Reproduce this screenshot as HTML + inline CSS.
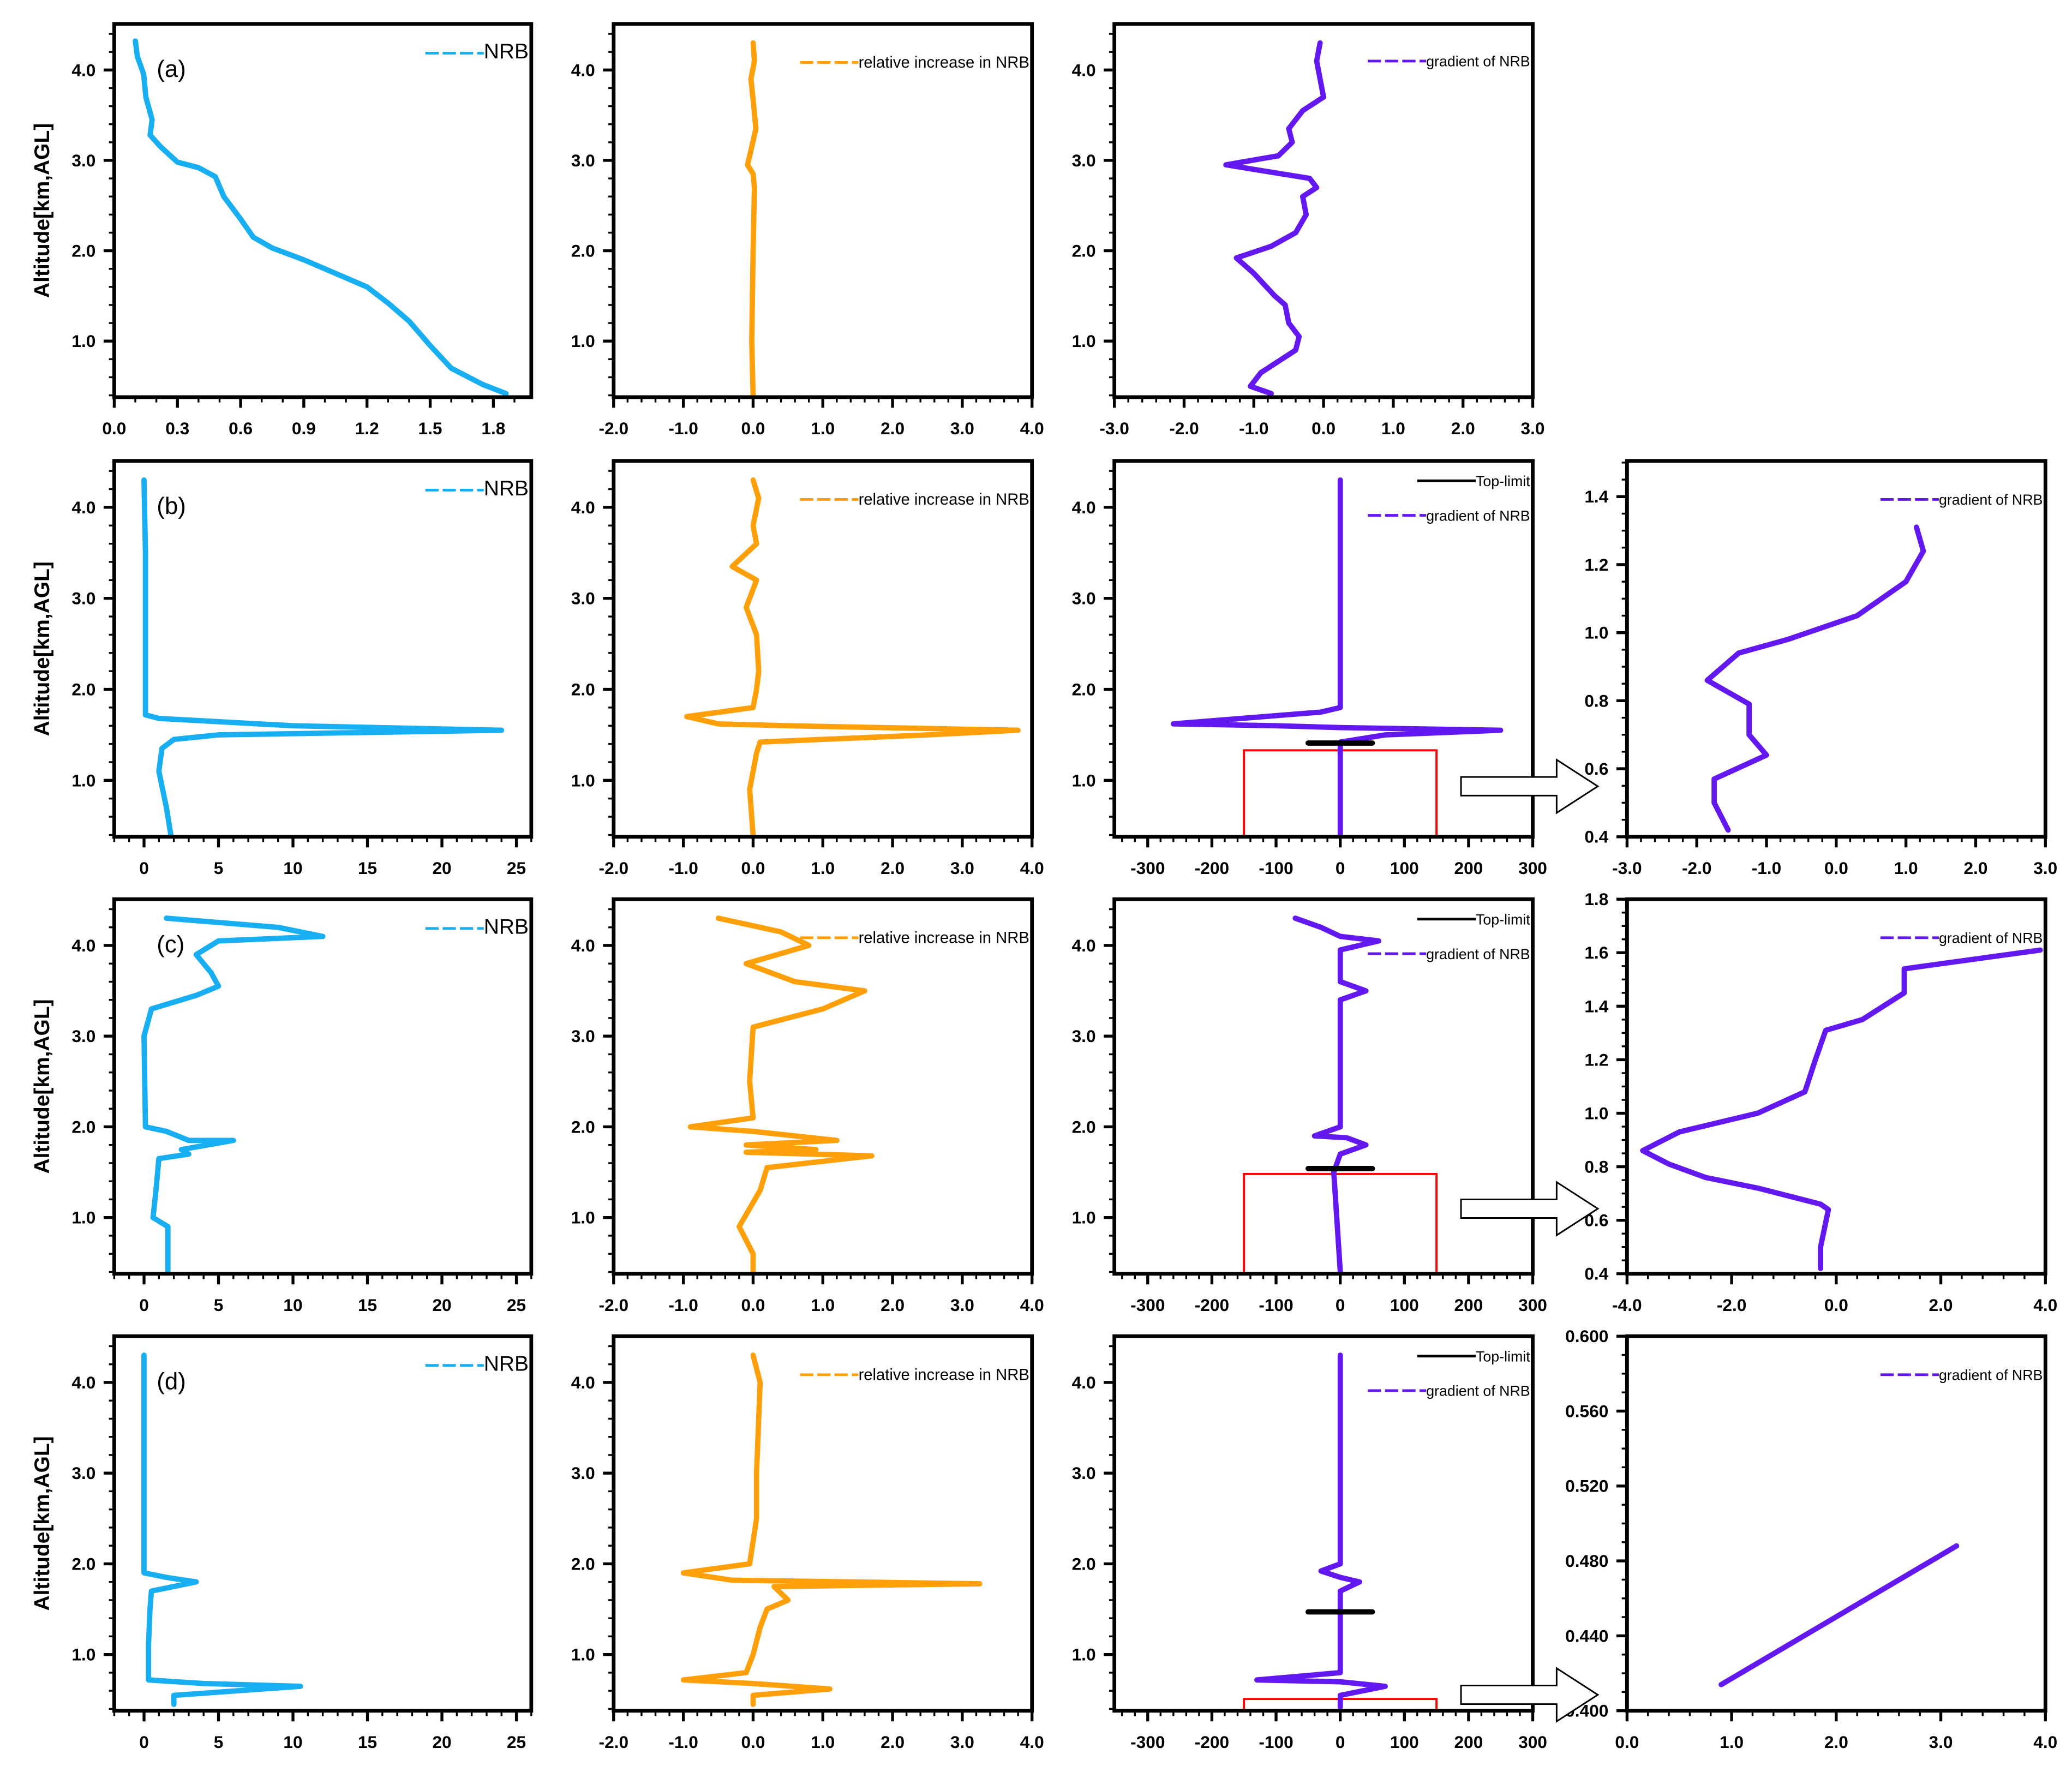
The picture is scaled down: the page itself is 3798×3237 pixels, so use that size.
<!DOCTYPE html>
<html><head><meta charset="utf-8"><style>
html,body{margin:0;padding:0;background:#fff}
svg{display:block}
text{font-family:"Liberation Sans",sans-serif}
</style></head><body>
<svg id="fig" width="3798" height="3237" viewBox="0 0 1560 1329.6" xmlns="http://www.w3.org/2000/svg"></svg>
<script>
// ---------- data (value, altitude km) ----------
const nrbA_x=[0.1,0.11,0.14,0.15,0.18,0.17,0.22,0.3,0.4,0.48,0.52,0.6,0.66,0.75,0.9,1.05,1.2,1.3,1.4,1.5,1.6,1.75,1.86];
const nrbA_y=[4.32,4.15,3.95,3.7,3.45,3.28,3.15,2.98,2.92,2.82,2.6,2.35,2.15,2.03,1.9,1.75,1.6,1.42,1.22,0.95,0.7,0.52,0.42];
const relA_x=[0,0.02,-0.03,0.01,0.04,-0.02,-0.08,0.0,0.02,0,-0.02,0];
const relA_y=[4.3,4.1,3.9,3.6,3.35,3.15,2.95,2.85,2.7,2.0,1.0,0.4];
const grdA_x=[-0.05,-0.1,-0.05,0.0,-0.3,-0.5,-0.45,-0.65,-1.4,-0.6,-0.2,-0.1,-0.3,-0.25,-0.4,-0.75,-1.25,-1.0,-0.7,-0.55,-0.5,-0.35,-0.4,-0.7,-0.9,-1.05,-0.75];
const grdA_y=[4.3,4.1,3.9,3.7,3.55,3.35,3.2,3.05,2.95,2.85,2.8,2.7,2.6,2.4,2.2,2.05,1.92,1.75,1.5,1.4,1.2,1.05,0.9,0.75,0.65,0.5,0.42];

const nrbB_x=[0,0.1,0.1,0.1,1,10,24,5,2,1.2,1,1.5,1.8];
const nrbB_y=[4.3,3.5,2.5,1.72,1.68,1.6,1.55,1.5,1.45,1.35,1.1,0.7,0.4];
const relB_x=[0,0.08,0.0,0.05,-0.3,0.05,-0.1,0.05,0.08,0.05,0,-0.95,-0.5,0.5,3.8,2.5,0.1,0.05,-0.05,0];
const relB_y=[4.3,4.1,3.8,3.6,3.35,3.2,2.9,2.6,2.2,2.0,1.8,1.7,1.62,1.6,1.55,1.5,1.42,1.3,0.9,0.4];
const grdB_x=[0,0,-30,-260,-100,0,250,70,0,0];
const grdB_y=[4.3,1.8,1.75,1.62,1.6,1.58,1.55,1.5,1.42,0.4];
const zoomB_x=[1.15,1.25,1.0,0.3,-0.7,-1.4,-1.85,-1.25,-1.25,-1.0,-1.75,-1.75,-1.55];
const zoomB_y=[1.31,1.24,1.15,1.05,0.98,0.94,0.86,0.79,0.7,0.64,0.57,0.5,0.42];

const nrbC_x=[1.5,9,12,5,3.5,4.5,5,3.5,0.5,0,0.1,1.5,3,6,2.5,3,1.0,0.8,0.6,1.6,1.6];
const nrbC_y=[4.3,4.2,4.1,4.05,3.9,3.7,3.55,3.45,3.3,3.0,2.0,1.95,1.85,1.85,1.75,1.7,1.65,1.3,1.0,0.9,0.4];
const relC_x=[-0.5,0.4,0.8,-0.1,0.6,1.6,1.0,0,-0.05,0,-0.9,0,1.2,-0.1,0.9,-0.1,1.7,0.2,0.1,-0.2,0.0,0.0];
const relC_y=[4.3,4.15,4.0,3.8,3.6,3.5,3.3,3.1,2.5,2.1,2.0,1.95,1.85,1.8,1.75,1.72,1.68,1.55,1.3,0.9,0.6,0.4];
const grdC_x=[-70,-30,0,60,0,0,40,0,0,-40,10,40,0,-10,0];
const grdC_y=[4.3,4.2,4.1,4.05,3.95,3.6,3.5,3.4,2.0,1.9,1.88,1.8,1.7,1.5,0.4];
const zoomC_x=[3.9,1.3,1.3,0.5,-0.2,-0.4,-0.6,-1.5,-3.0,-3.7,-3.2,-2.5,-1.5,-0.3,-0.15,-0.3,-0.3];
const zoomC_y=[1.61,1.54,1.45,1.35,1.31,1.2,1.08,1.0,0.93,0.86,0.81,0.76,0.72,0.66,0.64,0.5,0.42];

const nrbD_x=[0,0,0,1.5,3.5,0.5,0.4,0.3,0.3,4,10.5,2,2];
const nrbD_y=[4.3,3.0,1.9,1.85,1.8,1.7,1.5,1.1,0.72,0.68,0.65,0.55,0.45];
const relD_x=[0,0.1,0.05,0.05,-0.05,-1.0,-0.3,3.25,0.3,0.5,0.2,0.1,0.0,-0.1,-1.0,0.0,1.1,0.0,0.0];
const relD_y=[4.3,4.0,3.0,2.5,2.0,1.9,1.82,1.78,1.75,1.6,1.5,1.3,1.0,0.8,0.72,0.68,0.62,0.55,0.45];
const grdD_x=[0,0,-30,0,30,0,0,-130,0,70,0,0];
const grdD_y=[4.3,2.0,1.92,1.85,1.8,1.7,0.8,0.72,0.7,0.65,0.55,0.42];
const zoomD_x=[0.9,3.15];
const zoomD_y=[0.414,0.488];

const topLimit=[null,1.41,1.54,1.47];
const boxTop=[null,1.33,1.48,0.51];

const C_NRB='#17aef2',C_REL='#ff9f0a',C_GRD='#6318f0';
const svg=document.getElementById('fig');
const NS='http://www.w3.org/2000/svg';
function mk(tag,attrs,parent){const e=document.createElementNS(NS,tag);for(const k in attrs)e.setAttribute(k,attrs[k]);(parent||svg).appendChild(e);return e;}

const colX=[[86,400],[462,777],[839,1154],[1225,1540]];
const rowY=[[18,299],[347,630],[677,959],[1006,1288]];
const rowNames=['a','b','c','d'];

function panel(r,c,xr,yr,xMaj,xMin,yMaj,yMin,xDec,yDec,name){
  const [x0,x1]=colX[c],[y0,y1]=rowY[r];
  const g=mk('g',{});
  
  
  const sx=v=>x0+(v-xr[0])/(xr[1]-xr[0])*(x1-x0);
  const sy=v=>y1-(v-yr[0])/(yr[1]-yr[0])*(y1-y0);
  const eps=1e-9;
  const xa=mk('g',{},g);
  for(let v=Math.ceil(xr[0]/xMin-eps)*xMin;v<=xr[1]+eps;v+=xMin){
    const maj=Math.abs(v/xMaj-Math.round(v/xMaj))<1e-6;
    const X=sx(v);
    mk('line',{x1:X,x2:X,y1:y1,y2:y1+(maj?8:4),stroke:'#000','stroke-width':maj?2.2:1.4},xa);
    if(maj){const t=mk('text',{x:X,y:y1+28,'font-size':13,'font-weight':'bold','text-anchor':'middle'},xa);t.textContent=(Math.abs(v)<eps?0:v).toFixed(xDec);}
  }
  const ya=mk('g',{},g);
  for(let v=Math.ceil(yr[0]/yMin-eps)*yMin;v<=yr[1]+eps;v+=yMin){
    const maj=Math.abs(v/yMaj-Math.round(v/yMaj))<1e-6;
    const Y=sy(v);
    mk('line',{x1:x0,x2:x0-(maj?8:4),y1:Y,y2:Y,stroke:'#000','stroke-width':maj?2.2:1.4},ya);
    if(maj){const t=mk('text',{x:x0-14,y:Y+4.5,'font-size':13,'font-weight':'bold','text-anchor':'end'},ya);t.textContent=v.toFixed(yDec);}
  }
  return {g,sx,sy,x0,x1,y0,y1};
}
function frame(p){const f=mk('rect',{x:p.x0,y:p.y0,width:p.x1-p.x0,height:p.y1-p.y0,fill:'none',stroke:'#000','stroke-width':2.8},p.g);
  }
function series(p,xs,ys,color,name){
  const pts=xs.map((v,i)=>p.sx(v).toFixed(1)+','+p.sy(ys[i]).toFixed(1)).join(' ');
  const l=mk('polyline',{points:pts,fill:'none',stroke:color,'stroke-width':4,'stroke-linejoin':'round','stroke-linecap':'round'},p.g);
  
}
function legend(p,ly,label,color,dash,fs){
  const lg=mk('g',{},p.g);
  const t=mk('text',{x:0,y:ly+4,'font-size':fs,'text-anchor':'start'},lg);t.textContent=label;
  const w=t.getComputedTextLength?t.getComputedTextLength():label.length*fs*0.5;
  const tx=p.x1-2-w;t.setAttribute('x',tx);
  mk('line',{x1:tx-44,x2:tx,y1:ly,y2:ly,stroke:color,'stroke-width':2,'stroke-dasharray':dash?'10,3':'none'},lg);
}
for(let r=0;r<4;r++){
  const p1=r==0?panel(0,0,[0,1.98],[0.38,4.51],0.3,0.1,1,0.2,1,1,'nrb-panel-a'):panel(r,0,[-2,26],[0.38,4.51],5,1,1,0.2,0,1,'nrb-panel-'+rowNames[r]);
  const p2=panel(r,1,[-2,4],[0.38,4.51],1,0.2,1,0.2,1,1,'relative-increase-panel-'+rowNames[r]);
  const p3=r==0?panel(0,2,[-3,3],[0.38,4.51],1,0.2,1,0.2,1,1,'gradient-panel-a'):panel(r,2,[-352,300],[0.38,4.51],100,20,1,0.2,0,1,'gradient-panel-'+rowNames[r]);
  const d=[[nrbA_x,nrbA_y,relA_x,relA_y,grdA_x,grdA_y],[nrbB_x,nrbB_y,relB_x,relB_y,grdB_x,grdB_y],[nrbC_x,nrbC_y,relC_x,relC_y,grdC_x,grdC_y],[nrbD_x,nrbD_y,relD_x,relD_y,grdD_x,grdD_y]][r];
  series(p1,d[0],d[1],C_NRB,'nrb-line');
  series(p2,d[2],d[3],C_REL,'relative-increase-line');
  if(r>0){
    const bx=mk('rect',{x:p3.sx(-150),y:p3.sy(boxTop[r]),width:p3.sx(150)-p3.sx(-150),height:p3.y1-p3.sy(boxTop[r]),fill:'none',stroke:'#f00','stroke-width':1.6},p3.g);
    
  }
  series(p3,d[4],d[5],C_GRD,'gradient-line');
  if(r>0){
    const tl=mk('line',{x1:p3.sx(-50),x2:p3.sx(50),y1:p3.sy(topLimit[r]),y2:p3.sy(topLimit[r]),stroke:'#000','stroke-width':4,'stroke-linecap':'round'},p3.g);
    
  }
  frame(p1);frame(p2);frame(p3);
  legend(p1,rowY[r][0]+22,'NRB',C_NRB,true,16);
  legend(p2,rowY[r][0]+29,'relative increase in NRB',C_REL,true,12);
  if(r==0){legend(p3,rowY[r][0]+28,'gradient of NRB',C_GRD,true,11);}
  else{legend(p3,rowY[r][0]+15,'Top-limit','#000',false,11);legend(p3,rowY[r][0]+41,'gradient of NRB',C_GRD,true,11);}
  const lab=mk('text',{x:118,y:rowY[r][0]+40,'font-size':18},p1.g);lab.textContent='('+rowNames[r]+')';
  
  const cy=(rowY[r][0]+rowY[r][1])/2;
  const yt=mk('text',{x:0,y:0,'font-size':16,'font-weight':'bold','text-anchor':'middle',transform:`translate(37,${cy}) rotate(-90)`},p1.g);yt.textContent='Altitude[km,AGL]';
  
  if(r>0){
    let p4;
    if(r==1){p4=panel(1,3,[-3,3],[0.4,1.505],1,0.2,0.2,0.05,1,1,'zoom-panel-b');series(p4,zoomB_x,zoomB_y,C_GRD,'gradient-zoom-line');}
    if(r==2){p4=panel(2,3,[-4,4],[0.4,1.8],2,0.4,0.2,0.05,1,1,'zoom-panel-c');series(p4,zoomC_x,zoomC_y,C_GRD,'gradient-zoom-line');}
    if(r==3){p4=panel(3,3,[0,4],[0.4,0.6],1,0.2,0.04,0.01,1,3,'zoom-panel-d');series(p4,zoomD_x,zoomD_y,C_GRD,'gradient-zoom-line');}
    frame(p4);
    legend(p4,rowY[r][0]+29,'gradient of NRB',C_GRD,true,11);
    const ay=[0,592,910,1276][r];
    const ar=mk('polygon',{points:`1100,${ay-7} 1172,${ay-7} 1172,${ay-20} 1203,${ay} 1172,${ay+20} 1172,${ay+7} 1100,${ay+7}`,fill:'#fff',stroke:'#000','stroke-width':1.2});
    
  }
}
</script>
</body></html>
